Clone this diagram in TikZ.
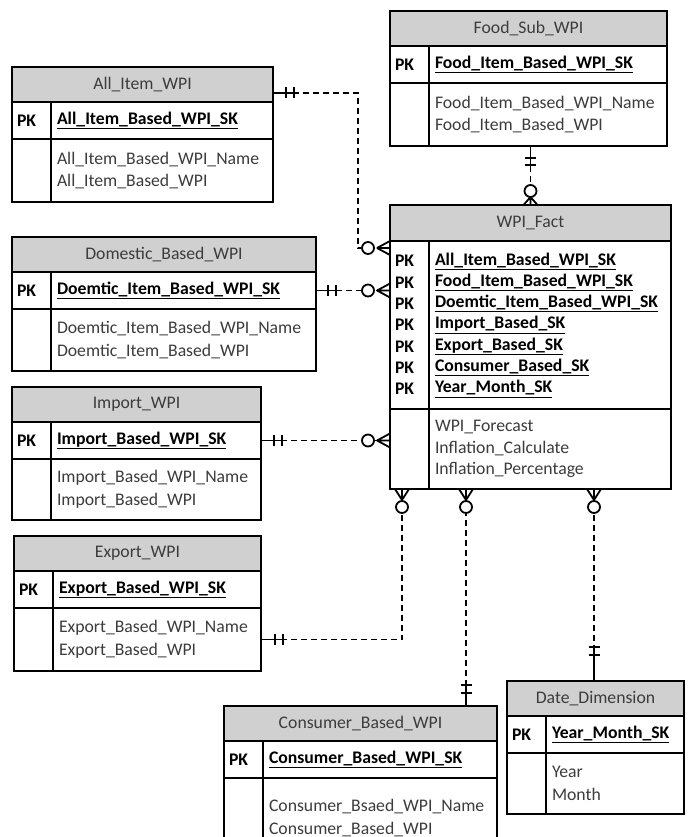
\documentclass[tikz,border=0pt]{standalone}
\usepackage{fontspec}
\setmainfont{Carlito}
\usetikzlibrary{calc}
\definecolor{hdrfill}{HTML}{D0D0D0}
\definecolor{txtgray}{HTML}{3C3C3C}
\tikzset{
  tbl/.style={draw=black, line width=1.4pt, inner sep=0pt, outer sep=0pt},
  hdr/.style={tbl, fill=hdrfill, text=txtgray, align=center, font=\fontsize{17.7pt}{22pt}\selectfont},
  cell/.style={tbl, fill=white, align=left, inner xsep=6pt, inner ysep=0pt, font=\fontsize{17.7pt}{22.5pt}\selectfont},
  factcell/.style={cell, font=\fontsize{17.7pt}{21.3pt}\selectfont},
  conn/.style={line width=1.8pt, dash pattern=on 6pt off 4pt},
  mk/.style={line width=1.8pt, solid},
}
\newcommand\ertab[8]{%
  \pgfmathsetmacro\ertt{#4-39-12}
  \node[hdr, minimum width=#4pt, minimum height=35pt, anchor=north west] (#1-h) at (#2,#3) {#5};
  \node[cell, inner xsep=5pt, text width=29pt, minimum height=37pt, anchor=north west] (#1-pkc) at (#1-h.south west) {\textbf{PK}};
  \node[cell, text width=\ertt pt, minimum height=37pt, anchor=north west] (#1-pk) at (#1-pkc.north east) {\underline{\textbf{#6}}};
  \node[cell, minimum width=39pt, minimum height=#8pt, anchor=north west] (#1-ac) at (#1-pkc.south west) {};
  \node[cell, text width=\ertt pt, minimum height=#8pt, anchor=north west, text=txtgray] (#1-a) at (#1-ac.north east) {#7};
}
\newcommand\oneone[5]{\begin{scope}[shift={(#1)},rotate=#2]
  \draw[mk] (0,0) -- (#5,0);
  \draw[mk] (#3,-5.5) -- (#3,5.5) (#4,-5.5) -- (#4,5.5);
\end{scope}}
\newcommand\zeromany[4]{\begin{scope}[shift={(#1)},rotate=#2]
  \draw[mk] (0,-7) -- (#3,0) (0,0) -- (#3,0) (0,7) -- (#3,0);
  \draw[mk,fill=white] (#4,0) circle[radius=6];
\end{scope}}
\begin{document}
\begin{tikzpicture}[x=1pt, y=-1pt]
\useasboundingbox (0,0) rectangle (688,837);
\clip (0,0) rectangle (688,837);
\fill[white] (0,0) rectangle (688,837);

\ertab{ai}{12}{67}{261}{All\_Item\_WPI}{All\_Item\_Based\_WPI\_SK}{All\_Item\_Based\_WPI\_Name\\All\_Item\_Based\_WPI}{63}
\ertab{food}{390}{11}{277}{Food\_Sub\_WPI}{Food\_Item\_Based\_WPI\_SK}{Food\_Item\_Based\_WPI\_Name\\Food\_Item\_Based\_WPI}{63}
\ertab{dom}{12}{237}{304}{Domestic\_Based\_WPI}{Doemtic\_Item\_Based\_WPI\_SK}{Doemtic\_Item\_Based\_WPI\_Name\\Doemtic\_Item\_Based\_WPI}{62}
\ertab{imp}{12}{387}{249}{Import\_WPI}{Import\_Based\_WPI\_SK}{Import\_Based\_WPI\_Name\\Import\_Based\_WPI}{61}
\ertab{exp}{14}{536}{247}{Export\_WPI}{Export\_Based\_WPI\_SK}{Export\_Based\_WPI\_Name\\Export\_Based\_WPI}{63}
\ertab{con}{224}{706}{273}{Consumer\_Based\_WPI}{Consumer\_Based\_WPI\_SK}{Consumer\_Bsaed\_WPI\_Name\\Consumer\_Based\_WPI}{80}
\ertab{date}{507}{681}{177}{Date\_Dimension}{Year\_Month\_SK}{Year\\Month}{61}

% fact table
\node[hdr, minimum width=281pt, minimum height=36pt, anchor=north west] (fact-h) at (390,205) {WPI\_Fact};
\node[factcell, inner xsep=5pt, text width=29pt, minimum height=168pt, anchor=north west] (fact-pkc) at (fact-h.south west)
  {\textbf{PK}\\\textbf{PK}\\\textbf{PK}\\\textbf{PK}\\\textbf{PK}\\\textbf{PK}\\\textbf{PK}};
\node[factcell, text width=230pt, minimum height=168pt, anchor=north west] (fact-pk) at (fact-pkc.north east)
  {\underline{\textbf{All\_Item\_Based\_WPI\_SK}}\\\underline{\textbf{Food\_Item\_Based\_WPI\_SK}}\\\underline{\textbf{Doemtic\_Item\_Based\_WPI\_SK}}\\\underline{\textbf{Import\_Based\_SK}}\\\underline{\textbf{Export\_Based\_SK}}\\\underline{\textbf{Consumer\_Based\_SK}}\\\underline{\textbf{Year\_Month\_SK}}};
\node[factcell, minimum width=39pt, minimum height=80pt, anchor=north west] (fact-ac) at (fact-pkc.south west) {};
\node[factcell, text width=230pt, minimum height=80pt, anchor=north west, text=txtgray] (fact-a) at (fact-ac.north east)
  {WPI\_Forecast\\Inflation\_Calculate\\Inflation\_Percentage};

% connector end points
\coordinate (c1s) at ([yshift=-8.5pt]ai-h.east);
\coordinate (c1e) at ([yshift=-7pt]fact-pkc.north west);
\coordinate (c2s) at (fact-h.north |- food-a.south);
\coordinate (c3e) at (dom-pk.east -| fact-pkc.west);
\coordinate (c4e) at (imp-pk.east -| fact-ac.west);
\coordinate (c5e) at ([xshift=12pt]fact-ac.south west);
\coordinate (c6e) at ([xshift=76pt]fact-ac.south west);
\coordinate (c6s) at (con-h.north -| c6e);
\coordinate (c7s) at ([xshift=-1.5pt]date-h.north);
\coordinate (c7e) at (c7s |- fact-a.south);

% connectors
\draw[conn] (c1s) -| ($(c1e)+(-32,0)$) -- (c1e);
\draw[conn] (c2s) -- (fact-h.north);
\draw[conn] (dom-pk.east) -- (c3e);
\draw[conn] (imp-pk.east) -- (c4e);
\draw[conn] (exp-a.east) -| (c5e);
\draw[conn] (c6s) -- (c6e);
\draw[conn] (c7s) -- (c7e);

% markers
\oneone{c1s}{0}{13}{21}{21}
\zeromany{c1e}{180}{13}{22}
\oneone{c2s}{270}{12}{19}{19}
\zeromany{fact-h.north}{90}{8}{14}
\oneone{dom-pk.east}{0}{12}{20}{20}
\zeromany{c3e}{180}{13}{22}
\oneone{imp-pk.east}{0}{13}{21}{21}
\zeromany{c4e}{180}{13}{22}
\oneone{exp-a.east}{0}{14}{22}{22}
\zeromany{c5e}{270}{11}{18}
\oneone{c6s}{90}{13}{21}{21}
\zeromany{c6e}{270}{11}{18}
\oneone{c7s}{90}{26}{34}{34}
\zeromany{c7e}{270}{11}{18}
\end{tikzpicture}
\end{document}
